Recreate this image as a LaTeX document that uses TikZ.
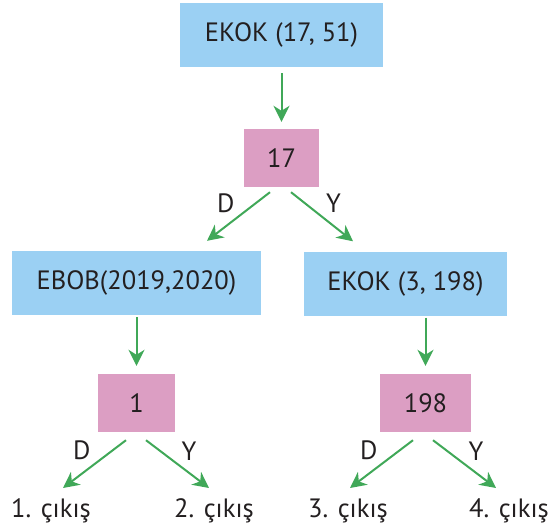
\documentclass[tikz,border=0pt]{standalone}
\usepackage{fontspec}
\setmainfont{PT Sans}
\usetikzlibrary{arrows.meta}
\definecolor{boxblue}{RGB}{155,208,243}
\definecolor{boxpink}{RGB}{220,158,195}
\definecolor{arrgreen}{RGB}{64,168,88}
\definecolor{txtgray}{RGB}{35,31,32}

\begin{document}
\begin{tikzpicture}[x=1pt, y=-1pt,
    every node/.style={text=txtgray, font=\fontsize{26.5}{30}\selectfont},
    opbox/.style={fill=boxblue, minimum height=64pt, inner sep=0pt},
    numbox/.style={fill=boxpink, minimum height=58pt, inner sep=0pt},
    outtxt/.style={anchor=base, inner sep=0pt},
    lbl/.style={inner sep=3pt},
    arr/.style={-{Stealth[length=16pt,width=16pt,inset=5pt]}, line width=2pt, draw=arrgreen}]
    \useasboundingbox (0,0) rectangle (551,530);

    %% boxes
    \node [opbox, minimum width=203pt] (ekok1) at (281.5,35) {EKOK (17, 51)};
    \node [numbox, minimum width=75pt] (s17) at (281.5,158) {17};
    \node [opbox, minimum width=249pt] (ebob) at (136.5,283) {EBOB(2019,2020)};
    \node [opbox, minimum width=203pt] (ekok2) at (405.5,283.5) {EKOK (3, 198)};
    \node [numbox, minimum width=77pt] (s1) at (136.5,403) {1};
    \node [numbox, minimum width=91pt] (s198) at (425.5,403) {198};

    %% exits
    \node [outtxt] (out1) at (51,517) {1. çıkış};
    \node [outtxt] (out2) at (214,517) {2. çıkış};
    \node [outtxt] (out3) at (348,517) {3. çıkış};
    \node [outtxt] (out4) at (509,517) {4. çıkış};

    %% arrows
    \draw [arr, shorten <=6pt, shorten >=7pt] (ekok1) -- (s17);
    \draw [arr] ([xshift=-11.5pt,yshift=-5pt]s17.south) -- node [lbl, above left] {D}
      ([xshift=70.5pt,yshift=10pt]ebob.north);
    \draw [arr] ([xshift=9.5pt,yshift=-5pt]s17.south) -- node [lbl, above right] {Y}
      ([xshift=-52.5pt,yshift=10pt]ekok2.north);

    \draw [arr, shorten <=2pt, shorten >=8pt] (ebob) -- (s1);
    \draw [arr, shorten <=2pt, shorten >=8pt] (ekok2.south -| s198.north) -- (s198.north);

    \draw [arr] ([xshift=-10.5pt,yshift=-8pt]s1.south) -- node [lbl, above left] {D}
      ([xshift=12pt,yshift=29pt]out1.base);
    \draw [arr] ([xshift=9.5pt,yshift=-8pt]s1.south) -- node [lbl, above right] {Y}
      ([xshift=-5pt,yshift=29pt]out2.base);
    \draw [arr] ([xshift=-12.5pt,yshift=-8pt]s198.south) -- node [lbl, above left] {D}
      ([xshift=2pt,yshift=29pt]out3.base);
    \draw [arr] ([xshift=7.5pt,yshift=-8pt]s198.south) -- node [lbl, above right] {Y}
      ([xshift=-13pt,yshift=29pt]out4.base);
\end{tikzpicture}
\end{document}
